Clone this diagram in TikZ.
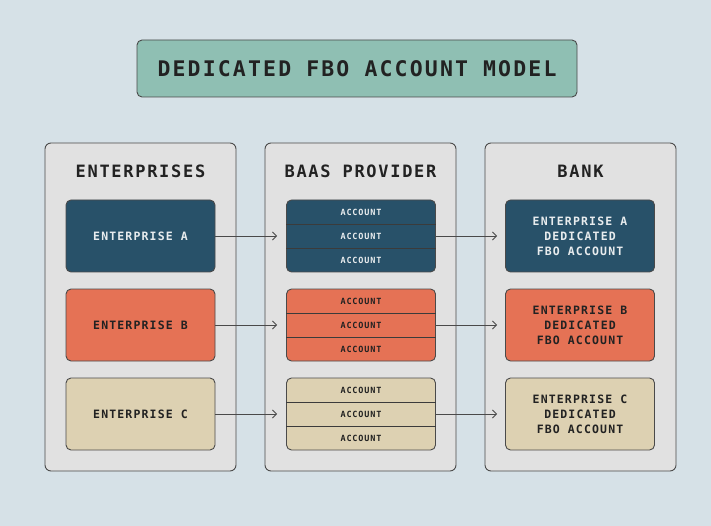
\documentclass[tikz,border=0pt]{standalone}
\usepackage{fontspec}
\newfontfamily\monoL[LetterSpace=10]{DejaVu Sans Mono}
\usetikzlibrary{arrows.meta}
\definecolor{bgc}{HTML}{D6E1E7}
\definecolor{titlec}{HTML}{8FBFB3}
\definecolor{colc}{HTML}{E1E1E1}
\definecolor{darkb}{HTML}{285169}
\definecolor{orangec}{HTML}{E57255}
\definecolor{beigec}{HTML}{DDD1B2}
\definecolor{edgec}{HTML}{4A4A4A}
\definecolor{lighttxt}{HTML}{E8ECEE}
\definecolor{darktxt}{HTML}{222222}
\tikzset{
  titlebox/.style={draw=edgec, line width=0.9pt, fill=titlec, rounded corners=5pt, minimum width=440pt, minimum height=57pt, font=\monoL\bfseries\fontsize{21.5}{24}\selectfont, text=darktxt},
  colbox/.style={draw=edgec, line width=0.9pt, fill=colc, rounded corners=6pt, minimum width=191pt, minimum height=328pt},
  header/.style={font=\monoL\bfseries\fontsize{17}{20}\selectfont, text=darktxt},
  inbox/.style={draw=edgec, line width=0.9pt, rounded corners=5pt, minimum width=149pt, minimum height=72pt, font=\monoL\bfseries\fontsize{11.5}{15}\selectfont, align=center},
  acct/.style={font=\monoL\bfseries\fontsize{8.5}{10}\selectfont},
  divl/.style={draw=edgec!80!black, line width=0.9pt},
  arr/.style={draw=edgec, line width=0.8pt, -{Straight Barb[length=4pt,width=8pt]}},
  bluefill/.style={fill=darkb, text=lighttxt},
  orangefill/.style={fill=orangec, text=darktxt},
  beigefill/.style={fill=beigec, text=darktxt},
}
\begin{document}
\begin{tikzpicture}[x=1pt,y=-1pt]
\fill[bgc] (0,0) rectangle (711,526);
\useasboundingbox (0,0) rectangle (711,526);

\node[titlebox] (title) at (357,68.5) {DEDICATED FBO ACCOUNT MODEL};

\node[colbox] (colE) at (140.5,307) {};
\node[colbox] (colP) at (360.5,307) {};
\node[colbox] (colB) at (580.5,307) {};

\node[header] (hE) at (140.5,171.5) {ENTERPRISES};
\node[header] (hP) at (360.5,171.5) {BAAS PROVIDER};
\node[header] (hB) at (580.5,171.5) {BANK};

% enterprises
\node[inbox,bluefill] (eA) at (140.5,236) {ENTERPRISE A};
\node[inbox,orangefill] (eB) at (140.5,325) {ENTERPRISE B};
\node[inbox,beigefill] (eC) at (140.5,414) {ENTERPRISE C};

% provider
\foreach \r/\y/\sty in {A/236/bluefill, B/325/orangefill, C/414/beigefill}{
  \node[inbox,\sty] (m\r) at (361,\y) {};
  \node[acct,\sty,fill=none] (m\r1) at (361,\y-24) {ACCOUNT};
  \node[acct,\sty,fill=none] (m\r2) at (361,\y) {ACCOUNT};
  \node[acct,\sty,fill=none] (m\r3) at (361,\y+24) {ACCOUNT};
  \draw[divl] ([yshift=12pt]m\r.west) -- ([yshift=12pt]m\r.east);
  \draw[divl] ([yshift=-12pt]m\r.west) -- ([yshift=-12pt]m\r.east);
}

% bank
\node[inbox,bluefill] (bA) at (580,236) {ENTERPRISE A\\DEDICATED\\FBO ACCOUNT};
\node[inbox,orangefill] (bB) at (580,325) {ENTERPRISE B\\DEDICATED\\FBO ACCOUNT};
\node[inbox,beigefill] (bC) at (580,414) {ENTERPRISE C\\DEDICATED\\FBO ACCOUNT};

% arrows
\foreach \r in {A,B,C}{
  \draw[arr, shorten >=9pt] (e\r.east) -- (m\r.west);
  \draw[arr, shorten >=8pt] (m\r.east) -- (b\r.west);
}
\end{tikzpicture}
\end{document}
